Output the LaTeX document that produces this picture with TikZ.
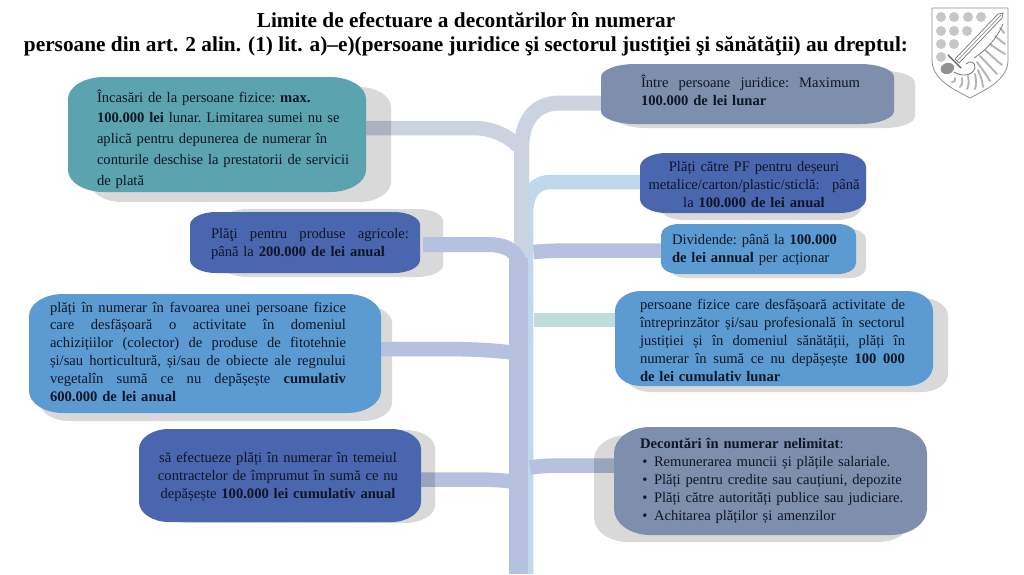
\documentclass[tikz,border=0pt]{standalone}
\usepackage{fontspec}
\setmainfont{Liberation Serif}
\pgfdeclarelayer{conn}\pgfdeclarelayer{shade}\pgfdeclarelayer{conntop}\pgfdeclarelayer{boxes}\pgfdeclarelayer{paper}
\pgfsetlayers{paper,conn,shade,conntop,boxes,main}
\definecolor{ink}{HTML}{0E1626}
\definecolor{tealbox}{HTML}{5BA3AE}
\definecolor{darkbox}{HTML}{4A66AE}
\definecolor{lightbox}{HTML}{5B9BD2}
\definecolor{slatebox}{HTML}{7E8FAD}
\definecolor{bandgrey}{HTML}{CBD3E0}
\definecolor{bandlight}{HTML}{BFD8ED}
\definecolor{bandblue}{HTML}{B5C1DF}
\definecolor{bandteal}{HTML}{BFDCDD}
\definecolor{crestgrey}{HTML}{B4B4B4}
\newcommand\mystrut{\frenchspacing\rule{0pt}{14pt}\lineskiplimit=-20pt\relax}
\newcommand\tln[2]{\makebox[#1pt][s]{\spaceskip=.3333em plus 1fil\relax #2}}
\newcommand\epath[6]{(#1+#5,#2) -- (#3-#5,#2)
 .. controls (#3-.45*#5,#2) and (#3,#2+.45*#6) .. (#3,#2+#6) -- (#3,#4-#6)
 .. controls (#3,#4-.45*#6) and (#3-.45*#5,#4) .. (#3-#5,#4) -- (#1+#5,#4)
 .. controls (#1+.45*#5,#4) and (#1,#4-.45*#6) .. (#1,#4-#6) -- (#1,#2+#6)
 .. controls (#1,#2+.45*#6) and (#1+.45*#5,#2) .. (#1+#5,#2) -- cycle}
% name x1 y1 x2 y2 rx ry fill
\newcommand\panel[8]{%
 \node[panelbox,minimum width=#4-#2,minimum height=#5-#3] (#1) at ({(#2+#4)/2},{(#3+#5)/2}) {};
 \begin{pgfonlayer}{boxes}\fill[#8] \epath{#2}{#3}{#4}{#5}{#6}{#7};\end{pgfonlayer}}
\newcommand\backdrop[6]{\begin{pgfonlayer}{shade}\fill[black,opacity=.15] \epath{#1}{#2}{#3}{#4}{#5}{#6};\end{pgfonlayer}}
\tikzset{
 panelbox/.style={rectangle,inner sep=0pt,outer sep=0pt},
 band/.style={line width=14.5pt,line cap=butt,draw=#1},
 txt/.style={anchor=north west,inner sep=0pt,outer sep=0pt,align=left,text=ink,
   font=\fontsize{14.6}{18}\selectfont,execute at begin node=\mystrut},
 txtc/.style={txt,align=center},
 titletext/.style={inner sep=0pt,outer sep=0pt,align=center,text=black,
   font=\fontsize{21.3}{24}\selectfont\bfseries},
}
\begin{document}
\begin{tikzpicture}[x=1pt,y=-1pt]
\useasboundingbox (0,0) rectangle (1024,574);
\begin{pgfonlayer}{paper}\fill[white] (0,0) rectangle (1024,574);\end{pgfonlayer}

% panels
\backdrop{90}{87}{391}{202}{32}{20}
\panel{L1}{68}{77}{366}{192}{36}{22}{tealbox}
\backdrop{222}{209}{443}{277}{26}{12}
\panel{L2}{190}{212}{420}{273}{26}{13}{darkbox}
\backdrop{40}{305}{392}{421}{30}{18}
\panel{L3}{29}{294}{381}{413}{34}{22}{lightbox}
\backdrop{160}{430}{435}{523}{30}{18}
\panel{L4}{139}{429}{421}{522}{30}{20}{darkbox}
\backdrop{615}{71}{915}{128}{30}{12}
\panel{R1}{601}{64}{894}{124}{34}{13}{slatebox}
\backdrop{660}{160}{861}{220}{24}{12}
\panel{R2}{640}{153}{866}{213}{26}{14}{darkbox}
\backdrop{670}{229}{866}{278}{16}{10}
\panel{R3}{661}{224}{856}{274}{18}{11}{lightbox}
\backdrop{625}{298}{948}{392}{26}{18}
\panel{R4}{615}{291}{933}{386}{26}{20}{lightbox}
\backdrop{594}{435}{912}{542}{34}{24}
\panel{R5}{614}{427}{927}{535}{36}{26}{slatebox}

% connector waypoints
\coordinate (l1a) at (473,128);
\coordinate (l1b) at (518,146);
\coordinate (r1a) at (560,103);
\coordinate (gt) at (521.5,150);
\coordinate (gb) at (521.5,256);
\coordinate (r2a) at (552,182);
\coordinate (lt) at (526,215);
\coordinate (lb) at (526,574);
\coordinate (l2a) at (487,244.5);
\coordinate (l2b) at (520.5,272);
\coordinate (bt) at (518.5,258);
\coordinate (bb) at (518.5,574);
\coordinate (l3a) at (440,349);
\coordinate (l3b) at (512,352.5);
\coordinate (l4a) at (470,479.5);
\coordinate (l4b) at (512,481.5);
\coordinate (r3a) at (575,250.5);
\coordinate (r3b) at (533.5,252);
\coordinate (r4a) at (533.5,320);
\coordinate (r5a) at (565,465.5);
\coordinate (r5b) at (530,467.5);

\begin{pgfonlayer}{conn}
\draw[band=bandlight] (R2.west |- r2a) -- (r2a) .. controls (535,182) and (526,192) .. (lt) -- (lb);
\draw[band=bandgrey,line width=15pt] (R1.west |- r1a) -- (r1a) .. controls (535,103) and (521.5,120) .. (gt) -- (gb);
\draw[band=bandgrey] (L1.east |- l1a) -- (l1a) .. controls (490,128) and (506,134) .. (l1b);
\draw[band=bandblue] (L4.east |- l4a) -- (l4a) .. controls (490,479.5) and (500,480) .. (l4b);
\draw[band=bandblue] (R5.west |- r5a) -- (r5a) .. controls (550,465.5) and (540,466) .. (r5b);
\end{pgfonlayer}
\begin{pgfonlayer}{conntop}
\draw[band=bandblue,line width=19pt] (bt) -- (bb);
\draw[band=bandblue,line width=15pt,shorten <=3pt] (L2.east |- l2a) -- (l2a) .. controls (505,244.5) and (520.5,250) .. (l2b);
\draw[band=bandblue] (L3.east |- l3a) -- (l3a) .. controls (470,349) and (490,350) .. (l3b);
\draw[band=bandblue] (R3.west |- r3a) -- (r3a) .. controls (555,250.5) and (545,251) .. (r3b);
\draw[band=bandteal] (R4.west |- r4a) -- (r4a);
\end{pgfonlayer}

% texts
\node[titletext] (title) at (466,34) {Limite de efectuare a decontărilor în numerar\\persoane din art. 2 alin. (1) lit. a)–e)(persoane juridice şi sectorul justiţiei şi sănătăţii) au dreptul:};

\node[txt,text width=256pt,font=\fontsize{14.6}{20.8}\selectfont] (tL1) at (97,88) {Încasări de la persoane fizice: \textbf{max.}\\\textbf{100.000 lei} lunar. Limitarea sumei nu se\\aplică pentru depunerea de numerar în\\conturile deschise la prestatorii de servicii\\de plată};
\node[txt,text width=198pt] (tL2) at (211,224) {\tln{198}{Plăţi pentru produse agricole:}\\până la \textbf{200.000 de lei anual}};
\node[txt,text width=296pt,font=\fontsize{14.6}{17.8}\selectfont] (tL3) at (50,298) {\tln{296}{plăți în numerar în favoarea unei persoane fizice}\\\tln{296}{care desfășoară o activitate în domeniul}\\\tln{296}{achizițiilor (colector) de produse de fitotehnie}\\\tln{296}{și/sau horticultură, și/sau de obiecte ale regnului}\\\tln{296}{vegetalîn sumă ce nu depășește \textbf{cumulativ}}\\\textbf{600.000 de lei anual}};
\node[txtc,text width=270pt] (tL4) at (143,448) {să efectueze plăți în numerar în temeiul\\contractelor de împrumut în sumă ce nu\\depășește \textbf{100.000 lei cumulativ anual}};
\node[txt,text width=219pt] (tR1) at (641,73) {\tln{219}{Între persoane juridice: Maximum}\\\textbf{100.000 de lei lunar}};
\node[txtc,text width=226pt] (tR2) at (641,157) {Plăți către PF pentru deșeuri\\\tln{211}{metalice/carton/plastic/sticlă: până}\\la \textbf{100.000 de lei anual}};
\node[txt,text width=180pt] (tR3) at (672,230) {Dividende: până la \textbf{100.000}\\\textbf{de lei annual} per acționar};
\node[txt,text width=265pt,font=\fontsize{14.6}{18.2}\selectfont] (tR4) at (640,295) {\tln{265}{persoane fizice care desfășoară activitate de}\\\tln{265}{întreprinzător și/sau profesională în sectorul}\\\tln{265}{justiției și în domeniul sănătății, plăți în}\\\tln{265}{numerar în sumă ce nu depășește \textbf{100 000}}\\\textbf{de lei cumulativ lunar}};
\node[txt,text width=280pt,font=\fontsize{14.6}{18.1}\selectfont] (tR5) at (640,434) {\textbf{Decontări în numerar nelimitat}:\\\makebox[14pt][l]{\,•}Remunerarea muncii și plățile salariale.\\\makebox[14pt][l]{\,•}Plăți pentru credite sau cauțiuni, depozite\\\makebox[14pt][l]{\,•}Plăți către autorități publice sau judiciare.\\\makebox[14pt][l]{\,•}Achitarea plăților și amenzilor};

% crest
\draw[draw=crestgrey!80!black,line width=.8pt,fill=white] (932,8) -- (1008,8) -- (1008,60)
  .. controls (1008,80) and (985,90) .. (970,98)
  .. controls (955,90) and (932,80) .. (932,60) -- cycle;
\foreach \px/\py in {941/17,954/17,968/17,981/17,941/31,954/31,967/31,941/44,954/44,941/57}
  \fill[crestgrey!75] (\px,\py) circle (5);
\foreach \bx/\by/\ex/\ey in {1000/28/1004/33,995/36/1005/44,990/44/1005/54,985/50/1002/65,980/56/997/74,977/62/990/81,978/70/983/87,975/74/975/89,968/76/967/89,962/78/960/87,955/78/952/82}
  \draw[crestgrey,line width=1.9pt,line cap=round] (\bx,\by) .. controls ({(\bx+\ex)/2+1.5},{(\by+\ey)/2+1.5}) .. (\ex,\ey);
\draw[crestgrey!70!black,line width=.8pt] (1003,24) .. controls (996,40) and (986,50) .. (974,58);
\draw[crestgrey!70!black,line width=.9pt] (954,72) .. controls (962,77) and (972,76) .. (975,68) .. controls (976,62) and (969,60) .. (966,64);
\draw[draw=crestgrey!65!black,fill=white,line width=.7pt] (1003,13) -- (998,14) -- (955,59) -- (959,63) -- (1002,18) -- cycle;
\draw[crestgrey!80!black,line width=.7pt] (1001,15) -- (957,61);
\draw[crestgrey!50!black,line width=1.2pt,line cap=round] (948,55) -- (961,68);
\fill[crestgrey!80!black] (941,67) .. controls (945,61) and (952,62) .. (954,66) .. controls (955,71) and (950,75) .. (945,74) .. controls (941,73) and (940,70) .. (941,67) -- cycle;
\end{tikzpicture}
\end{document}
